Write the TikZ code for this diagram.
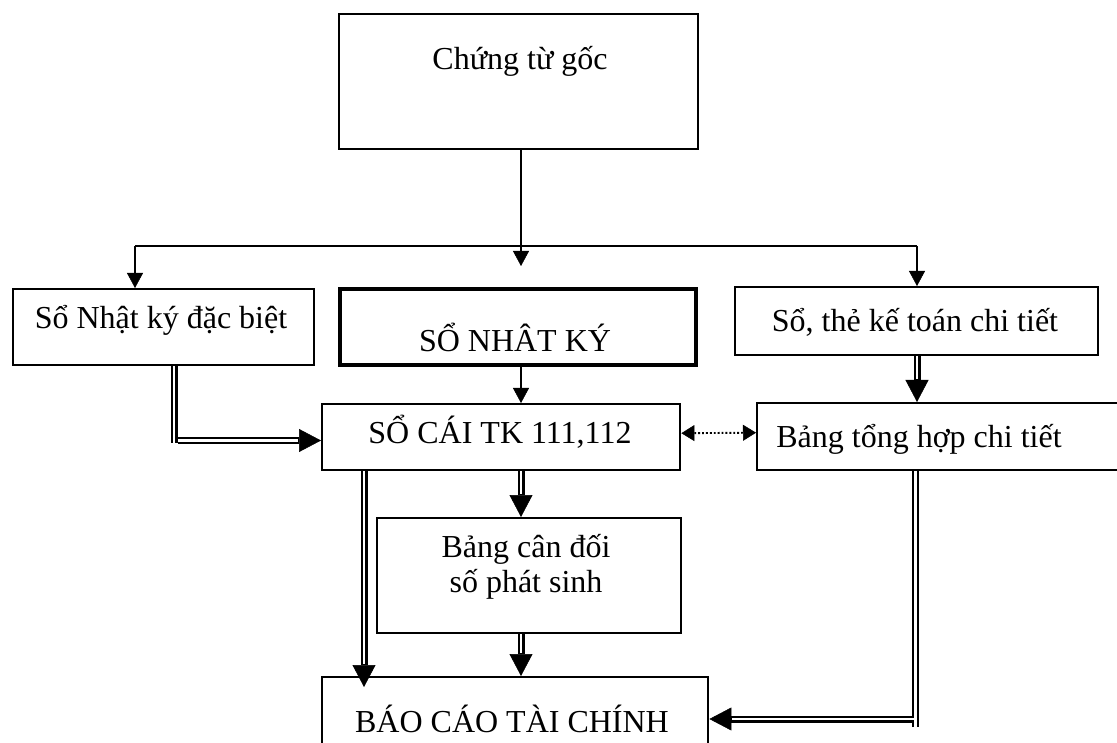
\documentclass[tikz,border=0pt]{standalone}
\usepackage{fontspec}
\setmainfont{Liberation Serif}
\usetikzlibrary{arrows.meta,backgrounds}
\tikzset{
 box/.style={draw, line width=2.4pt, inner sep=0pt, anchor=north west},
 thickbox/.style={box, line width=4pt},
 txt/.style={anchor=base, inner sep=0pt, font=\fontsize{32}{38}\selectfont},
 ln/.style={line width=2pt},
 arr/.style={line width=2pt, -{Triangle[length=15pt,width=16pt,line width=0.5pt]}},
 dbl/.style={line width=7pt, postaction={draw=white, line width=2.6pt}},
 dblarr/.style={line width=7pt, -{Triangle[length=22pt,width=23pt,line width=0.5pt]},
   postaction={draw=white, line width=2.6pt, -, shorten >=23pt}},
 dotarr/.style={line width=1.9pt, dotted,
   {Triangle[length=13pt,width=16pt,line width=0.5pt]}-{Triangle[length=13pt,width=16pt,line width=0.5pt]}},
}
\begin{document}
\begin{tikzpicture}[x=1pt,y=-1pt]
\useasboundingbox (0,0) rectangle (1117,743);
\clip (0,0) rectangle (1117,743);

% boxes
\node[box, minimum width=359pt, minimum height=135pt] (goc) at (338,13) {};
\node[box, minimum width=301pt, minimum height=76pt] (nkdb) at (12,288) {};
\node[thickbox, minimum width=356pt, minimum height=76pt] (nk) at (338,287) {};
\node[box, minimum width=363pt, minimum height=68pt] (ste) at (734,286) {};
\node[box, minimum width=358pt, minimum height=66pt] (socai) at (321,403) {};
\node[box, minimum width=420pt, minimum height=67pt] (btth) at (756,402) {};
\node[box, minimum width=304pt, minimum height=115pt] (bcd) at (376,517) {};
\node[box, minimum width=386pt, minimum height=110pt] (bctc) at (321,676) {};

% texts
\node[txt] (tgoc) at (520,70) {Chứng từ gốc};
\node[txt] (tnkdb) at (161,329) {Sổ Nhật ký đặc biệt};
\node[txt] (tnk) at (515,352) {SỔ NHÂT KÝ};
\node[txt] (tste) at (915,332) {Sổ, thẻ kế toán chi tiết};
\node[txt] (tsocai) at (500,443) {SỔ CÁI TK 111,112};
\node[txt] (tbtth) at (919,447) {Bảng tổng hợp chi tiết};
\node[txt] (tbcd1) at (526,557) {Bảng cân đối};
\node[txt] (tbcd2) at (526,592) {số phát sinh};
\node[txt] (tbctc) at (512,732) {BÁO CÁO TÀI CHÍNH};

% coordinates
\coordinate (s) at (521,246);
\coordinate (hl) at (135,246);
\coordinate (hr) at (917,246);
\coordinate (tipm) at (521,266);
\coordinate (a1) at (174,443);
\coordinate (a2) at (178,440.5);
\coordinate (b1) at (364,687);
\coordinate (r1) at (915.5,727);
\coordinate (r2) at (914,719);

\begin{scope}[on background layer]
\draw[ln] (goc.south -| s) -- (s);
\draw[ln] (hl) -- (hr);
\draw[arr] (hl) -- (nkdb.north -| hl);
\draw[arr] (s) -- (tipm);
\draw[arr] (hr) -- (ste.north -| hr);
\draw[arr] (nk.south -| s) -- (socai.north -| s);
\draw[dbl] (nkdb.south -| a1) -- (a1);
\draw[dblarr] (a2) -- (socai.west |- a2);
\draw[dotarr] ([yshift=4pt]socai.east) -- ([yshift=4pt]btth.west);
\draw[dblarr] (ste.south -| hr) -- (btth.north -| hr);
\draw[dblarr] (socai.south -| s) -- (bcd.north -| s);
\draw[dblarr] (bcd.south -| s) -- (bctc.north -| s);
\draw[dblarr] (socai.south -| b1) -- (b1);
\draw[dbl] (btth.south -| r1) -- (r1);
\draw[dblarr] (r2) -- (bctc.east |- r2);
\end{scope}
\end{tikzpicture}
\end{document}
